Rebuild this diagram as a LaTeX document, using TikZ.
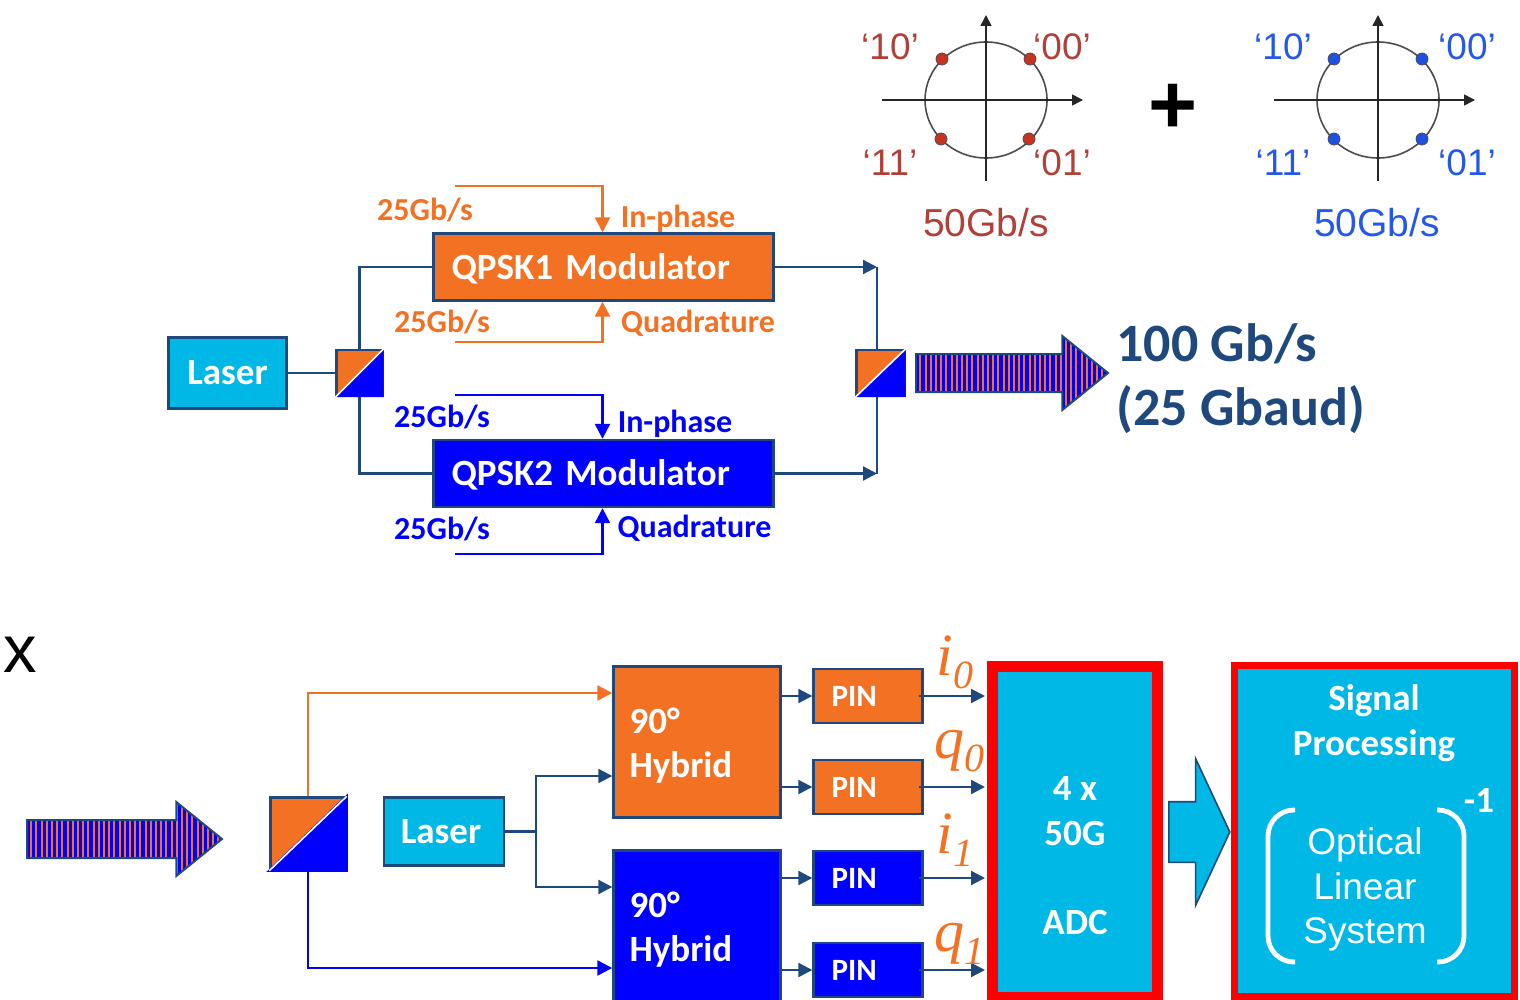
\documentclass[tikz,border=0pt]{standalone}
\usepackage{fontspec}
\setmainfont{Carlito}
\newfontfamily\arialfont{Liberation Sans}
\newfontfamily\timesfont{Liberation Serif}
\usepackage{tikz}
\usetikzlibrary{arrows.meta,shapes.geometric,shapes.arrows,patterns.meta}
\definecolor{linedark}{RGB}{31,73,125}
\definecolor{qorange}{RGB}{243,113,35}
\definecolor{qblue}{RGB}{0,0,255}
\definecolor{qcyan}{RGB}{0,184,230}
\definecolor{dotred}{RGB}{200,50,35}
\definecolor{dotblue}{RGB}{30,80,225}
\definecolor{labelred}{RGB}{176,64,56}
\definecolor{labelblue}{RGB}{36,88,232}
% Taller first line pushes a two-line box text down
\newcommand{\lowline}{\rule{0pt}{16pt}}
\newcommand{\sigsub}[1]{\raisebox{-6.5pt}{\fontsize{20}{20}\selectfont #1}}
\tikzset{
    % Boxes
    box/.style={
        rectangle, draw=linedark, line width=1.2pt, text=white,
        inner sep=0pt, font=\bfseries\fontsize{18.5}{22}\selectfont
    },
    laserbox/.style={box, fill=qcyan},
    qpskbox/.style={box, minimum height=33.5pt, text width=152pt, inner xsep=9pt, align=left,
        text height=14pt, text depth=2pt},
    hybridbox/.style={box, minimum height=75.5pt, text width=67.5pt, inner xsep=8pt, align=left},
    pinbox/.style={box, minimum height=27pt, text width=36.5pt, inner xsep=9pt, align=left,
        font=\bfseries\fontsize{15.5}{18}\selectfont},
    splitbox/.style={rectangle, draw=linedark, fill=qorange, line width=1.2pt, inner sep=0pt},
    redbox/.style={rectangle, draw=red, fill=qcyan, inner sep=0pt},
    boxtext/.style={text=white, align=center, inner sep=0pt, font=\bfseries\fontsize{18.5}{22.3}\selectfont},
    opticaltext/.style={text=white, align=center, inner sep=0pt, font=\arialfont\fontsize{18.5}{22.3}\selectfont},
    bracket/.style={draw=white, line width=2.4pt, rounded corners=13pt},
    % Arrows
    stripearrow/.style={
        single arrow, draw=linedark, line width=1pt, inner xsep=0pt, inner ysep=9pt,
        minimum height=96pt, minimum width=36pt,
        single arrow head extend=9pt, single arrow tip angle=78,
        preaction={fill=qblue}, pattern={Lines[angle=90,distance=2.6pt,line width=1pt]},
        pattern color=qorange
    },
    blockarrow/.style={
        single arrow, draw=linedark, fill=qcyan, line width=0.8pt, inner xsep=0pt, inner ysep=14.75pt,
        minimum height=30.5pt, minimum width=72.5pt,
        single arrow head extend=21.5pt, single arrow tip angle=130
    },
    flowline/.style={draw=linedark, line width=1.1pt},
    flow/.style={flowline, -{Triangle[length=7pt,width=7pt]}},
    orangeline/.style={draw=qorange, line width=1.2pt},
    orangeflow/.style={orangeline, -{Triangle[length=7.5pt,width=7.5pt]}},
    blueline/.style={draw=qblue, line width=1.2pt},
    blueflow/.style={blueline, -{Triangle[length=7.5pt,width=7.5pt]}},
    % Constellations
    axisline/.style={draw=black!85, line width=0.8pt, -{Triangle[length=5.5pt,width=5.5pt]}},
    ring/.style={ellipse, draw=black!70, line width=0.8pt, minimum width=61pt, minimum height=58pt, inner sep=0pt},
    reddot/.style={circle, draw=black!70, fill=dotred, minimum size=6pt, inner sep=0pt, line width=0.4pt},
    bluedot/.style={circle, draw=black!70, fill=dotblue, minimum size=6pt, inner sep=0pt, line width=0.4pt},
    redlabel/.style={text=labelred, inner sep=0pt, font=\arialfont\fontsize{18.5}{20}\selectfont},
    bluelabel/.style={text=labelblue, inner sep=0pt, font=\arialfont\fontsize{18.5}{20}\selectfont},
    ratelabel/.style={inner sep=0pt, font=\arialfont\fontsize{19.5}{22}\selectfont},
    % Small labels
    orangetext/.style={text=qorange, inner sep=0pt, font=\bfseries\fontsize{16}{18}\selectfont},
    bluetext/.style={text=qblue, inner sep=0pt, font=\bfseries\fontsize{16}{18}\selectfont},
    sigtext/.style={text=qorange, anchor=base west, inner sep=0pt, font=\timesfont\itshape\fontsize{30}{32}\selectfont}
}

\begin{document}
\begin{tikzpicture}[x=0.5pt,y=-0.5pt]
  \useasboundingbox (0,0) rectangle (1520,1000);

  % Constellations
  \node[ring] (ringA) at (986,100) {};
  \coordinate (axAw) at (882,100);
  \coordinate (axAe) at (1083,100);
  \coordinate (axAs) at (986,181);
  \coordinate (axAn) at (986,15);
  \draw[axisline] (axAw) -- (axAe);
  \draw[axisline] (axAs) -- (axAn);
  \node[reddot] (dotA) at (942,59) {};
  \node[reddot] (dotB) at (1030,59) {};
  \node[reddot] (dotC) at (941,139) {};
  \node[reddot] (dotD) at (1029,139) {};
  \node[redlabel] (symA) at (890,47) {‘10’};
  \node[redlabel] (symB) at (1062,47) {‘00’};
  \node[redlabel] (symC) at (890,163) {‘11’};
  \node[redlabel] (symD) at (1062,163) {‘01’};
  \node[ratelabel,text=labelred] (rateA) at (986,223) {50Gb/s};

  \node[inner sep=0pt,font=\arialfont\bfseries\fontsize{42}{44}\selectfont] (plus) at (1173,109) {+};

  \node[ring] (ringB) at (1378,100) {};
  \coordinate (axBw) at (1274,100);
  \coordinate (axBe) at (1475,100);
  \coordinate (axBs) at (1378,181);
  \coordinate (axBn) at (1378,15);
  \draw[axisline] (axBw) -- (axBe);
  \draw[axisline] (axBs) -- (axBn);
  \node[bluedot] (dotE) at (1334,59) {};
  \node[bluedot] (dotF) at (1422,59) {};
  \node[bluedot] (dotG) at (1334,139) {};
  \node[bluedot] (dotH) at (1422,139) {};
  \node[bluelabel] (symE) at (1283,47) {‘10’};
  \node[bluelabel] (symF) at (1467,47) {‘00’};
  \node[bluelabel] (symG) at (1283,163) {‘11’};
  \node[bluelabel] (symH) at (1467,163) {‘01’};
  \node[ratelabel,text=labelblue] (rateB) at (1377,223) {50Gb/s};

  % Transmitter
  \node[laserbox,minimum width=59pt,minimum height=35.5pt] (laserA) at (227.5,373) {Laser};
  \node[splitbox,minimum size=23pt] (splitA) at (359.5,373) {};
  \fill[qblue] (splitA.south west) -- (splitA.north east) -- (splitA.south east) -- cycle;
  \draw[white,line width=0.8pt] (splitA.south west) -- (splitA.north east);
  \node[qpskbox,fill=qorange] (qpskA) at (603.5,267) {QPSK1 Modulator};
  \node[qpskbox,fill=qblue] (qpskB) at (603.5,473.5) {QPSK2 Modulator};
  \node[splitbox,minimum width=24pt,minimum height=23pt] (combine) at (880.5,373) {};
  \fill[qblue] (combine.south west) -- (combine.north east) -- (combine.south east) -- cycle;
  \draw[white,line width=0.8pt] (combine.south west) -- (combine.north east);
  \coordinate (joinA) at (877,267);
  \coordinate (joinB) at (877,473.5);
  \draw[flowline] (laserA) -- (splitA);
  \draw[flowline] (splitA.north) |- (qpskA.west);
  \draw[flowline] (splitA.south) |- (qpskB.west);
  \draw[flow] (qpskA.east) -- (joinA);
  \draw[flow] (qpskB.east) -- (joinB);
  \draw[flowline] (joinA) -- (joinA |- combine.north);
  \draw[flowline] (joinB) -- (joinB |- combine.south);

  \coordinate (dataA) at (455,186);
  \coordinate (dataB) at (455,342);
  \coordinate (dataC) at (455,395);
  \coordinate (dataD) at (455,554);
  \draw[orangeflow] (dataA) -| ([xshift=-0.5pt]qpskA.north);
  \draw[orangeflow] (dataB) -| ([xshift=-0.5pt]qpskA.south);
  \draw[blueflow] (dataC) -| ([xshift=-0.5pt]qpskB.north);
  \draw[blueflow] (dataD) -| ([xshift=-0.5pt]qpskB.south);
  \node[orangetext] (bitA) at (425,210) {25Gb/s};
  \node[orangetext] (bitB) at (442,322) {25Gb/s};
  \node[bluetext] (bitC) at (442,417) {25Gb/s};
  \node[bluetext] (bitD) at (442,529) {25Gb/s};
  \node[orangetext] (armA) at (678,219) {In-phase};
  \node[orangetext] (armB) at (698,323) {Quadrature};
  \node[bluetext] (armC) at (675,424) {In-phase};
  \node[bluetext] (armD) at (694.5,528) {Quadrature};

  \node[stripearrow,anchor=tail] (arrowA) at (915,373) {};
  \node[text=linedark,inner sep=0pt,anchor=west,align=left,
        font=\bfseries\fontsize{27}{32}\selectfont] (speed) at (1116,379) {100 Gb/s\\(25 Gbaud)};

  % Receiver
  \node[inner sep=0pt,anchor=base east,font=\arialfont\fontsize{33.5}{36}\selectfont] (rxlabel) at (37,672) {i\kern1.5pt x};
  \node[stripearrow,anchor=tail,minimum height=97.5pt] (arrowB) at (26,839) {};
  \node[splitbox,minimum width=37.5pt,minimum height=36pt] (splitB) at (308,833.5) {};
  \filldraw[qblue,line width=1.2pt] (splitB.south west) -- (splitB.north east) -- (splitB.south east) -- cycle;
  \draw[white,line width=0.8pt] (splitB.south west) -- (splitB.north east);
  \node[laserbox,minimum width=60pt,minimum height=34pt] (laserB) at (444,831.5) {Laser\kern3pt};
  \node[hybridbox,fill=qorange] (hybA) at (697,742) {\lowline 90°\\Hybrid};
  \node[hybridbox,fill=qblue] (hybB) at (697,926) {\lowline 90°\\Hybrid};
  \node[pinbox,fill=qorange] (pinA) at (868,696) {PIN};
  \node[pinbox,fill=qorange] (pinB) at (868,787) {PIN};
  \node[pinbox,fill=qblue] (pinC) at (868,878) {PIN};
  \node[pinbox,fill=qblue] (pinD) at (868,970) {PIN};
  \node[redbox,line width=5.5pt,minimum width=82.5pt,minimum height=165.5pt] (adc) at (1075,832) {};
  \node[boxtext] (adctext) at (1075,855.5) {4 x\\50G\\ \\ADC};
  \node[blockarrow,anchor=tail] (arrowC) at (1168,832) {};
  \node[redbox,line width=3.5pt,minimum width=140pt,minimum height=165.5pt] (dsp) at (1374.5,831) {};
  \node[boxtext] (dsptitle) at (1374,723) {Signal\\Processing};
  \node[opticaltext] (dsptext) at (1365,889.5) {Optical\\Linear\\System};
  \node[boxtext] (dspinv) at (1479,800) {-1};
  \draw[bracket] (1295,810) -- (1268,810) -- (1268,962) -- (1295,962);
  \draw[bracket] (1437,810) -- (1464,810) -- (1464,962) -- (1437,962);

  \coordinate (fork) at (536,831.5);
  \draw[orangeflow] (splitB.north) |- (hybA.west |- 0,693);
  \draw[blueflow] (splitB.south) |- (hybB.west |- 0,968);
  \draw[flowline] (laserB.east) -- (fork);
  \draw[flow] (fork) |- (hybA.west |- 0,776);
  \draw[flow] (fork) |- (hybB.west |- 0,887);
  \draw[flow] (hybA.east |- pinA.west) -- (pinA.west);
  \draw[flow] (hybA.east |- pinB.west) -- (pinB.west);
  \draw[flow] (hybB.east |- pinC.west) -- (pinC.west);
  \draw[flow] (hybB.east |- pinD.west) -- (pinD.west);
  \draw[flow,shorten >=1pt] ([xshift=-2.5pt]pinA.east) -- (pinA.east -| adc.west);
  \draw[flow,shorten >=1pt] ([xshift=-2.5pt]pinB.east) -- (pinB.east -| adc.west);
  \draw[flow,shorten >=1pt] ([xshift=-2.5pt]pinC.east) -- (pinC.east -| adc.west);
  \draw[flow,shorten >=1pt] ([xshift=-2.5pt]pinD.east) -- (pinD.east -| adc.west);
  \node[sigtext] (sigA) at (936,675) {i\sigsub{0}};
  \node[sigtext] (sigB) at (934,758) {q\sigsub{0}};
  \node[sigtext] (sigC) at (936,853) {i\sigsub{1}};
  \node[sigtext] (sigD) at (934,951) {q\sigsub{1}};
\end{tikzpicture}
\end{document}
